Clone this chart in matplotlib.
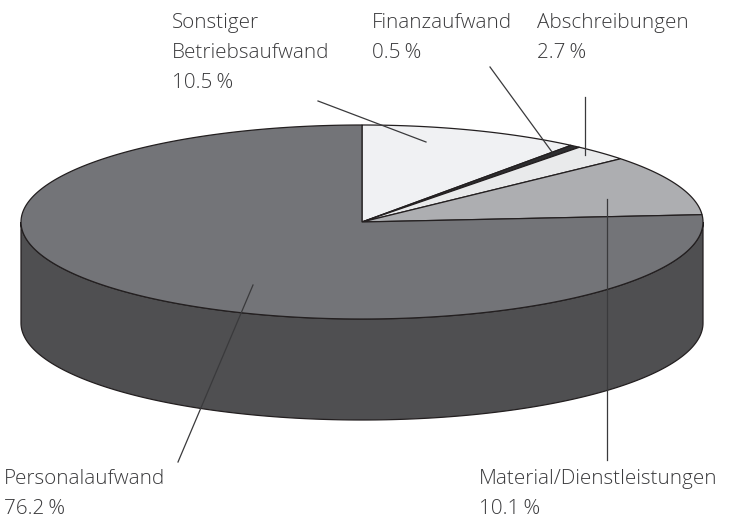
import numpy as np
import matplotlib
matplotlib.use("Agg")
from matplotlib import pyplot as plt
from matplotlib.patches import Polygon

# data
labels = ["Sonstiger\nBetriebsaufwand", "Finanzaufwand", "Abschreibungen",
          "Material/Dienstleistungen", "Personalaufwand"]
shares = [10.5, 0.5, 2.7, 10.1, 76.2]
top_colors = ["#f0f1f3", "#2e2e30", "#e9eaeb", "#adaeb1", "#737478"]
side_color = "#4f4f51"
edge = "#231f20"

# geometry of the pie (pixels)
cx, cy, rx, ry, depth = 362, 222, 341, 97, 101

def ell(t, dy=0):
    return cx + rx * np.cos(t), cy - ry * np.sin(t) + dy

fig = plt.figure(figsize=(7.31, 5.22), dpi=100)
ax = fig.add_axes([0, 0, 1, 1])
ax.set_xlim(0, 731)
ax.set_ylim(522, 0)
ax.axis("off")

# slice angles, clockwise from top
bounds = np.radians(90 - 360 * np.cumsum([0] + shares) / 100)

# side wall (only the front half is visible)
t = np.linspace(np.pi, 2 * np.pi, 200)
xt, yt = ell(t)
xb, yb = ell(t[::-1], depth)
ax.add_patch(Polygon(np.column_stack([np.r_[xt, xb], np.r_[yt, yb]]),
                     closed=True, fc=side_color, ec=edge, lw=0.9, zorder=1))

# top wedges
for i in range(len(shares)):
    t = np.linspace(bounds[i], bounds[i + 1], 300)
    x, y = ell(t)
    pts = np.column_stack([np.r_[cx, x], np.r_[cy, y]])
    ax.add_patch(Polygon(pts, closed=True, fc=top_colors[i], ec=edge, lw=0.9, zorder=2))

# labels and leader lines
txt = dict(fontsize=14.9, color="#3a3a3c", family=["Open Sans", "DejaVu Sans"],
           fontweight="light", ha="left", va="top", linespacing=1.68, zorder=5)
label_pos = [(172, 13), (372, 13), (537, 13), (479, 469), (4, 469)]
leaders = [((318, 101), (426, 142)), ((490, 67), (552, 152)),
           ((585, 97), (585, 155)), ((607, 199), (607, 460)),
           ((178, 462), (253, 285))]
for lab, val, (lx, ly), (p0, p1) in zip(labels, shares, label_pos, leaders):
    ax.text(lx, ly, f"{lab}\n{val:.1f}\u2009%", **txt)
    ax.plot([p0[0], p1[0]], [p0[1], p1[1]], color="#3a3a3c", lw=0.9, zorder=4)

fig.savefig("out.png", dpi=100)
